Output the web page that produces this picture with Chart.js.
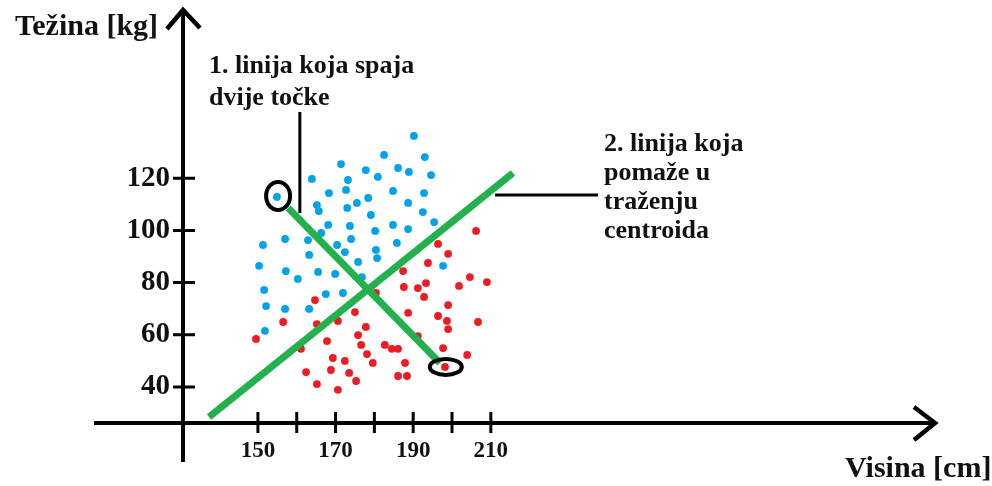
<!DOCTYPE html>
<html>
<head>
<meta charset="utf-8">
<title>Visina / Težina</title>
<script src="https://cdn.jsdelivr.net/npm/chart.js@4"></script>
<style>
  html, body { margin: 0; padding: 0; background: #fff; }
</style>
</head>
<body>
<canvas id="myChart" width="992" height="486"></canvas>
<script>
// blue group: visina [cm] / težina [kg]
const blueX = [171.4, 177.8, 163.9, 173.2, 172.7, 168.3, 154.9, 175.5, 165.2, 165.7, 173.0, 168.1, 173.7, 157.0,
  166.3, 174.0, 151.3, 162.9, 170.4, 172.4, 163.2, 175.8, 150.3, 157.2, 160.3, 165.5, 169.9, 176.8, 151.6, 167.5,
  171.9, 152.1, 157.0, 163.2, 151.8, 190.2, 182.5, 193.0, 186.1, 188.9, 180.9, 194.6, 184.8, 192.8, 178.4, 188.7,
  179.1, 192.5, 195.4, 180.2, 184.8, 188.7, 185.8, 180.4, 180.7, 197.7];
const blueY = [125.4, 123.1, 119.7, 119.3, 115.5, 114.3, 112.8, 110.5, 109.7, 107.4, 108.6, 102.1, 101.7, 96.7,
  99.0, 96.7, 94.4, 96.3, 94.4, 91.7, 90.6, 87.9, 86.4, 84.4, 81.4, 84.1, 83.3, 82.1, 77.2, 75.6,
  76.0, 71.0, 69.9, 69.9, 61.5, 136.2, 128.9, 128.1, 123.9, 122.4, 120.5, 121.2, 115.1, 114.3, 112.4, 110.5,
  105.9, 107.0, 103.2, 99.8, 102.1, 100.5, 95.2, 92.5, 89.4, 86.4];

// red group
const redX = [164.7, 156.5, 149.5, 165.2, 170.6, 175.0, 177.8, 175.8, 167.8, 176.6, 161.1, 169.3, 172.4, 178.1,
  162.4, 168.8, 173.5, 175.3, 165.2, 170.6, 206.2, 196.4, 199.0, 193.8, 187.4, 204.6, 209.0, 201.8, 193.3, 187.6,
  191.2, 192.8, 180.4, 199.0, 188.7, 196.4, 198.7, 199.0, 206.7, 182.7, 184.5, 186.1, 191.2, 197.7, 203.9, 179.6,
  187.9, 198.2, 186.1, 188.4];
const redY = [73.3, 64.9, 58.4, 64.1, 65.3, 68.7, 63.0, 59.9, 57.6, 56.1, 54.6, 51.1, 50.0, 52.6,
  45.7, 46.5, 45.4, 42.3, 41.1, 38.9, 99.8, 94.8, 91.0, 87.5, 84.4, 82.1, 80.2, 78.7, 79.8, 78.3,
  77.9, 74.5, 76.0, 71.4, 68.4, 67.2, 65.3, 62.2, 64.9, 56.1, 54.6, 54.6, 59.5, 54.9, 52.3, 49.2,
  49.2, 47.7, 44.2, 44.2];

// 1. line joining the two points, 2. line that helps finding the centroid
const line1X = [157.8, 196.9];
const line1Y = [108.6, 49.2];
const line2X = [137.4, 215.7];
const line2Y = [28.5, 122.0];

// the two circled points
const circledX = [155.2, 198.4];
const circledY = [113.2, 47.7];

// pointer lines from the notes
const pointer1X = [160.8, 160.8];
const pointer1Y = [145.4, 106.7];
const pointer2X = [211.1, 237.6];
const pointer2Y = [113.6, 113.6];

const xTicks = [150, 160, 170, 180, 190, 200, 210];
const xTickLabels = ['150', '', '170', '', '190', '', '210'];
const yTicks = [40, 60, 80, 100, 120];
const yTickLabels = ['40', '60', '80', '100', '120'];

const xTitle = 'Visina [cm]';
const yTitle = 'Težina [kg]';
const note1 = ['1. linija koja spaja', 'dvije točke'];
const note2 = ['2. linija koja', 'pomaže u', 'traženju', 'centroida'];

function toPoints(xs, ys) {
    return xs.map(function(x, i) { return {x: x, y: ys[i]}; });
}

const serif = 'Liberation Serif, Times New Roman, serif';

// axes with arrows, crossing tick marks, titles, notes and the circles
const drawing = {
    id: 'drawing',
    beforeDatasetsDraw: function(chart) {
        const ctx = chart.ctx;
        const area = chart.chartArea;
        const xs = chart.scales.x, ys = chart.scales.y;
        ctx.save();
        ctx.strokeStyle = '#000';
        ctx.lineCap = 'butt';
        // axis lines
        ctx.lineWidth = 4;
        ctx.beginPath();
        ctx.moveTo(94, area.bottom);
        ctx.lineTo(area.right - 2, area.bottom);
        ctx.moveTo(area.left, area.top + 2);
        ctx.lineTo(area.left, 462);
        ctx.stroke();
        // arrow heads
        ctx.lineWidth = 4.5;
        ctx.lineJoin = 'miter';
        ctx.beginPath();
        ctx.moveTo(area.left - 16, area.top + 21);
        ctx.lineTo(area.left, area.top + 2);
        ctx.lineTo(area.left + 17, area.top + 20);
        ctx.moveTo(area.right - 24, area.bottom - 16);
        ctx.lineTo(area.right - 3, area.bottom);
        ctx.lineTo(area.right - 24, area.bottom + 17);
        ctx.stroke();
        // tick marks
        ctx.lineWidth = 3;
        ctx.beginPath();
        xTicks.forEach(function(v) {
            const px = xs.getPixelForValue(v);
            ctx.moveTo(px, area.bottom - 11);
            ctx.lineTo(px, area.bottom + 10);
        });
        yTicks.forEach(function(v) {
            const py = ys.getPixelForValue(v);
            ctx.moveTo(area.left - 10, py);
            ctx.lineTo(area.left + 12, py);
        });
        ctx.stroke();
        // titles and notes
        ctx.fillStyle = '#111';
        ctx.textBaseline = 'alphabetic';
        ctx.textAlign = 'left';
        ctx.font = 'bold 30px ' + serif;
        ctx.fillText(yTitle, 15, 35);
        ctx.fillText(xTitle, 845, 477);
        ctx.font = 'bold 26px ' + serif;
        note1.forEach(function(t, i) { ctx.fillText(t, 209, 73 + i * 32); });
        note2.forEach(function(t, i) { ctx.fillText(t, 604, 151 + i * 29); });
        ctx.restore();
    },
    afterDatasetsDraw: function(chart) {
        const ctx = chart.ctx;
        const xs = chart.scales.x, ys = chart.scales.y;
        ctx.save();
        ctx.strokeStyle = '#000';
        ctx.lineWidth = 4;
        ctx.beginPath();
        ctx.ellipse(xs.getPixelForValue(circledX[0]), ys.getPixelForValue(circledY[0]), 12, 14, 0, 0, Math.PI * 2);
        ctx.stroke();
        ctx.beginPath();
        ctx.ellipse(xs.getPixelForValue(circledX[1]), ys.getPixelForValue(circledY[1]), 16, 8, 0, 0, Math.PI * 2);
        ctx.stroke();
        ctx.restore();
    }
};

const data = {
    datasets: [
        {
            label: 'linija 1',
            data: toPoints(line1X, line1Y),
            showLine: true,
            borderColor: '#22b14c',
            borderWidth: 7,
            pointRadius: 0
        },
        {
            label: 'linija 2',
            data: toPoints(line2X, line2Y),
            showLine: true,
            borderColor: '#22b14c',
            borderWidth: 7,
            pointRadius: 0
        },
        {
            label: 'pokazivač 1',
            data: toPoints(pointer1X, pointer1Y),
            showLine: true,
            borderColor: '#000',
            borderWidth: 3,
            pointRadius: 0
        },
        {
            label: 'pokazivač 2',
            data: toPoints(pointer2X, pointer2Y),
            showLine: true,
            borderColor: '#000',
            borderWidth: 3,
            pointRadius: 0
        },
        {
            label: 'plavi',
            data: toPoints(blueX, blueY),
            backgroundColor: '#00a2e8',
            borderWidth: 0,
            pointRadius: 3.9
        },
        {
            label: 'crveni',
            data: toPoints(redX, redY),
            backgroundColor: '#ed1c24',
            borderWidth: 0,
            pointRadius: 3.9
        }
    ]
};

const config = {
    type: 'scatter',
    data: data,
    options: {
        responsive: false,
        animation: false,
        events: [],
        layout: { padding: { top: 8, right: 54, bottom: 0, left: 0 } },
        plugins: {
            legend: { display: false },
            tooltip: { enabled: false }
        },
        scales: {
            x: {
                type: 'linear',
                min: 130.7,
                max: 325.2,
                afterBuildTicks: function(scale) {
                    scale.ticks = xTicks.map(function(v) { return {value: v}; });
                },
                afterFit: function(scale) {
                    scale.height = 63;
                    scale.paddingLeft = 0;
                    scale.paddingRight = 0;
                },
                grid: { display: false, drawTicks: false },
                border: { display: false },
                ticks: {
                    autoSkip: false,
                    maxRotation: 0,
                    padding: 14,
                    color: '#111',
                    font: { family: serif, size: 23, weight: 'bold' },
                    callback: function(value, index) { return xTickLabels[index]; }
                }
            },
            y: {
                type: 'linear',
                min: 26.2,
                max: 185.2,
                afterBuildTicks: function(scale) {
                    scale.ticks = yTicks.map(function(v) { return {value: v}; });
                },
                afterFit: function(scale) {
                    scale.width = 183;
                    scale.paddingTop = 0;
                    scale.paddingBottom = 0;
                },
                grid: { display: false, drawTicks: false },
                border: { display: false },
                ticks: {
                    autoSkip: false,
                    padding: 13,
                    color: '#111',
                    font: { family: serif, size: 29, weight: 'bold' },
                    callback: function(value, index) { return yTickLabels[index]; }
                }
            }
        }
    },
    plugins: [drawing]
};

const myChart = new Chart(document.getElementById('myChart'), config);
</script>
</body>
</html>
